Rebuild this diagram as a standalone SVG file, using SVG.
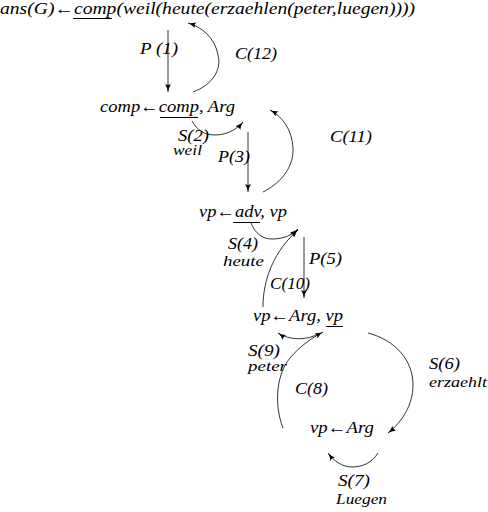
<svg xmlns="http://www.w3.org/2000/svg" width="488" height="512" viewBox="0 0 488 512">
<style>
.t{font-family:"Liberation Serif","Times New Roman",serif;font-style:italic;font-size:17px;fill:#000}
.top{font-size:16px}
.l{font-family:"Liberation Serif","Times New Roman",serif;font-style:italic;font-size:16px;fill:#000}
.s{font-family:"Liberation Serif","Times New Roman",serif;font-style:italic;font-size:14px;fill:#000}
.u{stroke:#000;stroke-width:1}
.c{fill:none;stroke:#000;stroke-width:0.8;marker-end:url(#ah)}
</style>
<defs>
<marker id="ah" markerUnits="userSpaceOnUse" markerWidth="10" markerHeight="8" refX="8" refY="4" orient="auto" viewBox="0 0 10 8">
<path d="M0,1 Q4,3.5 8,4 Q4,4.5 0,7 Q2,4 0,1 Z" fill="#000"/>
</marker>
</defs>
<rect width="488" height="512" fill="#fff"/>
<g id="n-goal">
<text class="t top" x="0" y="14" textLength="415" lengthAdjust="spacingAndGlyphs">ans(G)←comp(weil(heute(erzaehlen(peter,luegen))))</text>
<line class="u" x1="73" y1="18.5" x2="112" y2="18.5"/>
</g>
<g id="n-comp">
<text class="t" x="100" y="112" textLength="135" lengthAdjust="spacingAndGlyphs">comp←comp, Arg</text>
<line class="u" x1="160" y1="117.5" x2="198" y2="117.5"/>
</g>
<g id="n-vp1">
<text class="t" x="199" y="217" textLength="88" lengthAdjust="spacingAndGlyphs">vp←adv, vp</text>
<line class="u" x1="233" y1="222.5" x2="260" y2="222.5"/>
</g>
<g id="n-vp2">
<text class="t" x="253" y="321" textLength="90" lengthAdjust="spacingAndGlyphs">vp←Arg, vp</text>
<line class="u" x1="326" y1="326.5" x2="343" y2="326.5"/>
</g>
<g id="n-vp3">
<text class="t" x="310" y="433" textLength="64" lengthAdjust="spacingAndGlyphs">vp←Arg</text>
</g>
<g id="connectors">
<path class="c" d="M168,30 L168,92"/>
<path class="c" d="M193,92 C212,85 222,70 218,55 C215,38 202,27 188,23"/>
<path class="c" d="M192,121 C197,130 204,135 215,135 C228,135 238,128 243,122"/>
<path class="c" d="M248,132 L248,192"/>
<path class="c" d="M263,192 C283,182 294,165 293,148 C292,130 283,117 270,110"/>
<path class="c" d="M251,223 C255,233 262,239 272,239 C284,239 292,235 298,229"/>
<path class="c" d="M263,307 C263,278 275,250 298,230"/>
<path class="c" d="M304,237 L304,298"/>
<path class="c" d="M318,334 C308,340 290,341 278,333"/>
<path class="c" d="M283,428 C274,405 276,375 290,358 C300,346 312,338 323,332"/>
<path class="c" d="M368,333 C395,340 413,360 413,385 C413,405 402,422 388,433"/>
<path class="c" d="M378,453 C372,463 362,467 352,467 C342,467 334,461 328,453"/>
</g>
<g id="labels">
<text class="l" x="140" y="54" textLength="38" lengthAdjust="spacingAndGlyphs">P (1)</text>
<text class="l" x="235" y="59" textLength="42" lengthAdjust="spacingAndGlyphs">C(12)</text>
<text class="l" x="178" y="141" textLength="31" lengthAdjust="spacingAndGlyphs">S(2)</text>
<text class="s" x="173" y="155" textLength="29" lengthAdjust="spacingAndGlyphs">weil</text>
<text class="l" x="218" y="162" textLength="32" lengthAdjust="spacingAndGlyphs">P(3)</text>
<text class="l" x="330" y="142" textLength="42" lengthAdjust="spacingAndGlyphs">C(11)</text>
<text class="l" x="228" y="249" textLength="30" lengthAdjust="spacingAndGlyphs">S(4)</text>
<text class="s" x="223" y="266" textLength="41" lengthAdjust="spacingAndGlyphs">heute</text>
<text class="l" x="309" y="264" textLength="33" lengthAdjust="spacingAndGlyphs">P(5)</text>
<text class="l" x="270" y="289" textLength="40" lengthAdjust="spacingAndGlyphs">C(10)</text>
<text class="l" x="248" y="356" textLength="32" lengthAdjust="spacingAndGlyphs">S(9)</text>
<text class="s" x="248" y="371" textLength="39" lengthAdjust="spacingAndGlyphs">peter</text>
<text class="l" x="295" y="394" textLength="33" lengthAdjust="spacingAndGlyphs">C(8)</text>
<text class="l" x="429" y="369" textLength="31" lengthAdjust="spacingAndGlyphs">S(6)</text>
<text class="s" x="429" y="387" textLength="58" lengthAdjust="spacingAndGlyphs">erzaehlt</text>
<text class="l" x="338" y="486" textLength="32" lengthAdjust="spacingAndGlyphs">S(7)</text>
<text class="s" x="336" y="504" textLength="51" lengthAdjust="spacingAndGlyphs">Luegen</text>
</g>
</svg>
